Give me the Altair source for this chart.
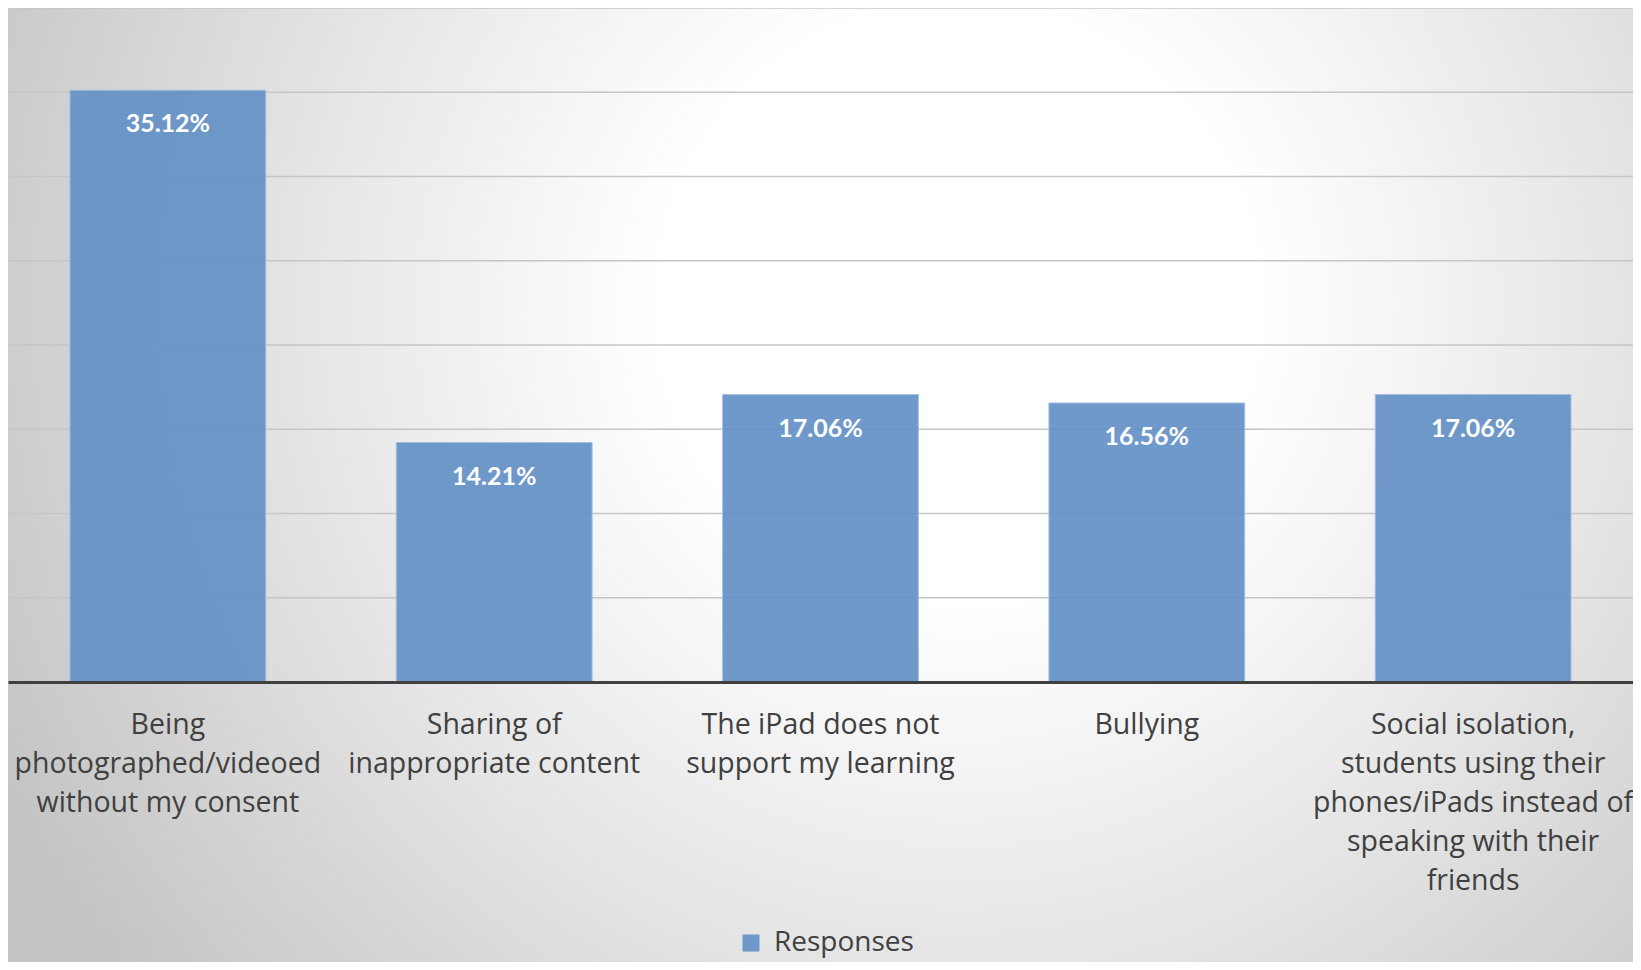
import altair as alt
import pandas as pd

categories = [
    "Being|photographed/videoed|without my consent",
    "Sharing of|inappropriate content",
    "The iPad does not|support my learning",
    "Bullying",
    "Social isolation,|students using their|phones/iPads instead of|speaking with their|friends",
]
values = [35.12, 14.21, 17.06, 16.56, 17.06]
value_labels = ["35.12%", "14.21%", "17.06%", "16.56%", "17.06%"]
series = ["Responses"] * 5
grid_ticks = [5, 10, 15, 20, 25, 30, 35, 40]

df = pd.DataFrame({"category": categories, "value": values,
                   "label": value_labels, "series": series})
grid_df = pd.DataFrame({"v": grid_ticks})

W, H = 1625, 674
TOTAL_H = 954
BAR = "#6592c6"
FONT = "Open Sans"
NUM_FONT = "Lato"

yscale = alt.Scale(domain=[0, 40], nice=False, zero=True)
xscale = alt.Scale(paddingInner=0.4, paddingOuter=0.19)

gradient = {
    "gradient": "radial",
    "stops": [
        {"offset": 0, "color": "#ffffff"},
        {"offset": 0.28, "color": "#ffffff"},
        {"offset": 0.58, "color": "#e8e8e8"},
        {"offset": 1, "color": "#c4c4c4"},
    ],
    "x1": 0.585, "y1": 0.375, "r1": 0,
    "x2": 0.585, "y2": 0.375, "r2": 0.66,
}

bg = alt.Chart(pd.DataFrame({"a": [0]})).mark_rect(fill=gradient, strokeWidth=0).encode(
    x=alt.value(0), x2=alt.value(W), y=alt.value(-300), y2=alt.value(1300)
)

grid = alt.Chart(grid_df).mark_rule(color="#c6c6c6", strokeWidth=1.5).encode(
    y=alt.Y("v:Q", scale=yscale, axis=None)
)

xenc = alt.X(
    "category:N", sort=categories, scale=xscale, title=None,
    axis=alt.Axis(
        labelExpr="split(datum.label, '|')", labelAngle=0, labelFontSize=28.5,
        labelFont=FONT, labelColor="#404040", labelLineHeight=39,
        labelPadding=28, labelBaseline="top", labelLimit=0, labelOverlap=False,
        labelBound=False, labelFlush=False, ticks=False, grid=False,
        domainColor="#404040", domainWidth=3, zindex=1,
    ),
)

bars = alt.Chart(df).mark_bar(opacity=0.93, stroke="#9fbbe0", strokeWidth=1).encode(
    x=xenc,
    y=alt.Y("value:Q", scale=yscale, axis=None),
    color=alt.Color(
        "series:N", scale=alt.Scale(range=[BAR]),
        legend=alt.Legend(
            title=None, orient="none", legendX=729, legendY=921, padding=0,
            symbolType="square", symbolSize=289, symbolStrokeWidth=0,
            labelFontSize=28, labelFont=FONT, labelColor="#404040",
            labelOffset=9,
        ),
    ),
)

text = alt.Chart(df).mark_text(
    color="white", font=NUM_FONT, fontWeight="bold", fontSize=25,
    baseline="middle", dy=34,
).encode(
    x=alt.X("category:N", sort=categories, scale=xscale),
    y=alt.Y("value:Q", scale=yscale),
    text="label:N",
)

chart = alt.layer(bg, grid, bars, text).properties(
    width=W, height=H,
    autosize=alt.AutoSizeParams(type="none"),
    padding={"left": 0, "top": 0, "right": 0, "bottom": TOTAL_H - H},
).configure_view(stroke=None).configure(background="white")

chart.save("out.html", embed_options={"renderer": "svg", "actions": False})
